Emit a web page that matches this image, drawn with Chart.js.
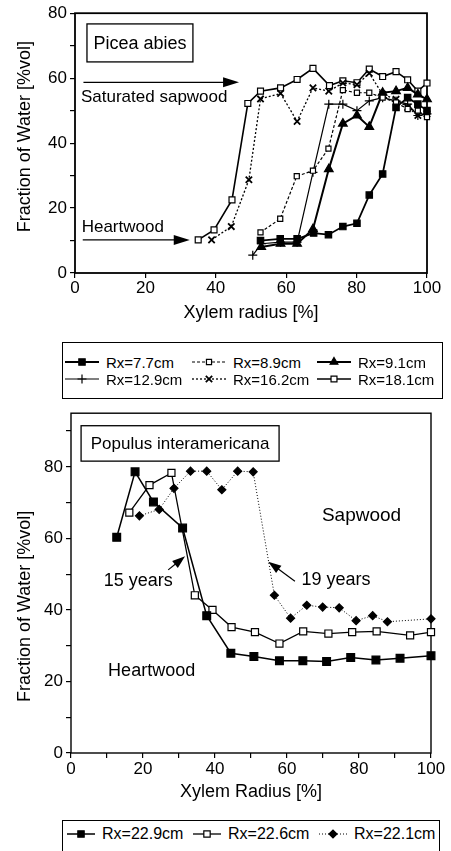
<!DOCTYPE html>
<html>
<head>
<meta charset="utf-8">
<script src="https://cdn.jsdelivr.net/npm/chart.js@4/dist/chart.umd.min.js"></script>
<style>
    body { margin: 0; background: #fff; width: 451px; height: 851px; position: relative; overflow: hidden; font-family: "Liberation Sans", Arial, sans-serif; }
    canvas.chart { position: absolute; left: 0; }
    .legend { position: absolute; border: 1px solid #000; box-sizing: border-box; background: #fff; }
    .item { position: absolute; height: 18px; display: flex; align-items: center; white-space: nowrap; color: #000; }
    .item canvas { display: block; }
</style>
</head>
<body>
<canvas id="picea" class="chart" style="top:0;width:451px;height:330px" width="451" height="330"></canvas>
<canvas id="populus" class="chart" style="top:400px;width:451px;height:415px" width="451" height="415"></canvas>
<div id="piceaLegend" class="legend" style="left:62px;top:342px;width:381px;height:57px"></div>
<div id="populusLegend" class="legend" style="left:62px;top:820px;width:378px;height:40px"></div>

<script>
// Picea abies: xylem radius [%] and fraction of water [%vol] per tree
const x77 = [52.7, 58.3, 63.1, 67.8, 72.0, 76.1, 80.1, 83.6, 87.4, 91.2, 94.5, 97.4, 100];
const y77 = [10.0, 10.5, 10.5, 12.3, 11.8, 14.3, 15.3, 24.0, 30.5, 51.0, 54.0, 52.0, 50.0];
const x89 = [52.7, 58.3, 63.0, 67.6, 72.0, 76.1, 80.1, 83.6, 87.4, 91.2, 94.5, 97.4, 100];
const y89 = [12.5, 16.7, 29.8, 31.5, 38.3, 56.3, 55.5, 55.5, 54.0, 52.5, 50.5, 50.0, 48.0];
const x91 = [52.9, 58.4, 63.1, 67.6, 72.1, 76.1, 80.1, 83.6, 87.4, 91.2, 94.5, 97.4, 100];
const y91 = [8.0, 9.0, 9.0, 13.5, 32.0, 46.0, 48.5, 45.0, 55.5, 56.0, 57.0, 55.0, 53.5];
const x129 = [50.5, 53.0, 58.4, 63.1, 67.6, 72.1, 76.1, 80.1, 83.6, 87.4, 91.2, 94.5, 97.4, 100];
const y129 = [5.5, 9.0, 9.5, 9.5, 31.0, 52.0, 52.0, 50.0, 53.0, 54.0, 53.0, 52.0, 48.5, 49.0];
const x162 = [38.8, 44.4, 49.4, 52.7, 58.4, 63.1, 67.6, 72.1, 76.1, 80.1, 83.6, 87.4, 91.2, 94.5, 97.4, 100];
const y162 = [10.2, 14.3, 28.7, 53.6, 55.3, 46.7, 57.0, 56.0, 58.5, 58.0, 61.5, 55.0, 53.5, 51.0, 48.5, 49.0];
const x181 = [35.0, 39.5, 44.6, 49.1, 52.7, 58.4, 63.1, 67.6, 72.3, 76.1, 80.1, 83.6, 87.4, 91.2, 94.5, 97.4, 100];
const y181 = [10.2, 13.3, 22.5, 52.2, 56.0, 57.0, 59.6, 63.0, 57.7, 59.2, 58.6, 62.8, 60.5, 62.0, 59.5, 56.0, 58.5];

// Populus interamericana
const x229 = [12.7, 17.8, 22.9, 31.0, 37.7, 44.4, 50.8, 57.9, 64.4, 71.0, 77.7, 84.7, 91.4, 100];
const y229 = [60.3, 78.6, 70.2, 62.9, 38.4, 27.9, 27.0, 25.8, 25.8, 25.6, 26.7, 26.0, 26.5, 27.2];
const x226 = [16.2, 21.8, 27.9, 34.4, 39.3, 44.6, 51.1, 57.9, 64.5, 71.5, 78.1, 84.9, 94.2, 100];
const y226 = [67.2, 74.9, 78.3, 44.1, 40.0, 35.2, 33.8, 30.6, 34.0, 33.4, 33.8, 34.0, 32.9, 33.8];
const x221 = [19.0, 24.5, 28.6, 33.2, 37.7, 41.9, 46.3, 50.6, 56.5, 61.0, 65.5, 69.9, 74.5, 79.2, 83.8, 87.9, 100];
const y221 = [66.3, 68.1, 74.0, 78.8, 78.8, 73.6, 78.8, 78.6, 44.1, 37.7, 41.3, 40.8, 40.6, 37.0, 38.4, 36.7, 37.5];

const FONT = '"Liberation Sans", Arial, sans-serif';
Chart.defaults.font.family = FONT;
Chart.defaults.color = '#000';

function pts(xs, ys) {
    return xs.map((x, i) => ({ x: x, y: ys[i] }));
}

function series(label, xs, ys, style) {
    return Object.assign({
        label: label,
        data: pts(xs, ys),
        showLine: true,
        borderColor: '#000',
        backgroundColor: '#000',
        pointBorderColor: '#000',
        pointBorderWidth: 1.2,
        borderWidth: 1.5,
        tension: 0,
        clip: false
    }, style);
}

// frame, labels, arrows and rotated y title
const notesPlugin = {
    id: 'notes',
    beforeDatasetsDraw(chart, args, opts) {
        const ctx = chart.ctx;
        const a = chart.chartArea;
        const sx = chart.scales.x, sy = chart.scales.y;
        ctx.save();
        ctx.strokeStyle = '#000';
        ctx.fillStyle = '#000';
        ctx.lineWidth = opts.frameWidth;
        ctx.strokeRect(a.left, a.top, a.right - a.left, a.bottom - a.top);

        const b = opts.box;
        const bx1 = sx.getPixelForValue(b.x1), bx2 = sx.getPixelForValue(b.x2);
        const by1 = sy.getPixelForValue(b.y1), by2 = sy.getPixelForValue(b.y2);
        ctx.lineWidth = 1.3;
        ctx.strokeRect(bx1, by1, bx2 - bx1, by2 - by1);
        ctx.font = b.size + 'px ' + FONT;
        ctx.textAlign = 'center';
        ctx.textBaseline = 'middle';
        ctx.fillText(b.text, (bx1 + bx2) / 2, (by1 + by2) / 2 + 1);

        opts.texts.forEach(t => {
            ctx.font = t.size + 'px ' + FONT;
            ctx.textAlign = t.align;
            ctx.fillText(t.text, sx.getPixelForValue(t.x), sy.getPixelForValue(t.y));
        });

        opts.arrows.forEach(r => {
            const x1 = sx.getPixelForValue(r.x1), y1 = sy.getPixelForValue(r.y1);
            const x2 = sx.getPixelForValue(r.x2), y2 = sy.getPixelForValue(r.y2);
            const ang = Math.atan2(y2 - y1, x2 - x1);
            ctx.lineWidth = 1.2;
            ctx.beginPath();
            ctx.moveTo(x1, y1);
            ctx.lineTo(x2 - Math.cos(ang) * r.head * 0.8, y2 - Math.sin(ang) * r.head * 0.8);
            ctx.stroke();
            ctx.beginPath();
            ctx.moveTo(x2, y2);
            ctx.lineTo(x2 - Math.cos(ang) * r.head - Math.sin(ang) * r.half, y2 - Math.sin(ang) * r.head + Math.cos(ang) * r.half);
            ctx.lineTo(x2 - Math.cos(ang) * r.head + Math.sin(ang) * r.half, y2 - Math.sin(ang) * r.head - Math.cos(ang) * r.half);
            ctx.closePath();
            ctx.fill();
        });
        ctx.restore();
    },
    afterDraw(chart, args, opts) {
        const ctx = chart.ctx;
        ctx.save();
        ctx.translate(opts.yTitleX, chart.scales.y.getPixelForValue(opts.yTitleAt));
        ctx.rotate(-Math.PI / 2);
        ctx.font = '18px ' + FONT;
        ctx.textAlign = 'center';
        ctx.textBaseline = 'middle';
        ctx.fillStyle = '#000';
        ctx.fillText(opts.yTitle, 0, 0);
        ctx.restore();
    }
};

function axes(cfg) {
    const gridOpts = { display: true, drawOnChartArea: false, drawTicks: true, tickLength: 5, color: '#000', lineWidth: 1.2 };
    return {
        x: {
            type: 'linear', min: 0, max: 100,
            border: { display: false },
            grid: gridOpts,
            ticks: {
                stepSize: cfg.xStep, padding: cfg.xPad, maxRotation: 0,
                font: { size: 17 },
                callback: v => (v % 20 === 0 ? v : '')
            },
            title: { display: true, text: cfg.xTitle, font: { size: 18 }, padding: { top: 0, bottom: cfg.xTitlePad } },
            afterFit: s => { s.height = cfg.xHeight; }
        },
        y: {
            type: 'linear', min: 0, max: cfg.yMax,
            border: { display: false },
            grid: gridOpts,
            ticks: {
                stepSize: 10, padding: 3, includeBounds: false,
                font: { size: 17 },
                callback: v => (v % 20 === 0 ? v : '')
            },
            afterFit: s => { s.width = cfg.yWidth; }
        }
    };
}

const piceaChart = new Chart(document.getElementById('picea').getContext('2d'), {
    type: 'scatter',
    data: {
        datasets: [
            series('Rx=7.7cm', x77, y77, { pointStyle: 'rect', pointRadius: 4.5, borderWidth: 1.8 }),
            series('Rx=8.9cm', x89, y89, { pointStyle: 'rect', pointRadius: 3.6, pointBackgroundColor: '#fff', borderDash: [3, 2], borderWidth: 1.2 }),
            series('Rx=9.1cm', x91, y91, { pointStyle: 'triangle', pointRadius: 5, borderWidth: 2 }),
            series('Rx=12.9cm', x129, y129, { pointStyle: 'cross', pointRadius: 4.5, borderWidth: 1.2 }),
            series('Rx=16.2cm', x162, y162, { pointStyle: 'crossRot', pointRadius: 4.5, pointBorderWidth: 1.8, borderDash: [2, 2], borderWidth: 1.3 }),
            series('Rx=18.1cm', x181, y181, { pointStyle: 'rect', pointRadius: 4.2, pointBackgroundColor: '#fff', borderWidth: 1.6 })
        ]
    },
    options: {
        responsive: false,
        animation: false,
        layout: { padding: { left: 0, top: 12, right: 24, bottom: 0 } },
        scales: axes({ xStep: 20, xPad: 0, xTitle: 'Xylem radius [%]', xTitlePad: 6, xHeight: 57, yMax: 80, yWidth: 75 }),
        plugins: {
            legend: { display: false },
            tooltip: { enabled: false },
            notes: {
                frameWidth: 1.8,
                yTitle: 'Fraction of Water [%vol]', yTitleX: 25, yTitleAt: 42,
                box: { x1: 3.4, x2: 33.5, y1: 76.7, y2: 65, text: 'Picea abies', size: 18 },
                texts: [
                    { text: 'Saturated sapwood', x: 1.7, y: 54.1, size: 17, align: 'left' },
                    { text: 'Heartwood', x: 1.9, y: 14.1, size: 17, align: 'left' }
                ],
                arrows: [
                    { x1: 2.4, y1: 58.7, x2: 46.6, y2: 58.7, head: 16, half: 5 },
                    { x1: 2.2, y1: 10.2, x2: 32.6, y2: 10.2, head: 16, half: 5 }
                ]
            }
        }
    },
    plugins: [notesPlugin]
});

const populusChart = new Chart(document.getElementById('populus').getContext('2d'), {
    type: 'scatter',
    data: {
        datasets: [
            series('Rx=22.9cm', x229, y229, { pointStyle: 'rect', pointRadius: 5.5, borderWidth: 1.5 }),
            series('Rx=22.6cm', x226, y226, { pointStyle: 'rect', pointRadius: 5, pointBackgroundColor: '#fff', borderWidth: 1.3 }),
            series('Rx=22.1cm', x221, y221, { pointStyle: 'rectRot', pointRadius: 4, borderDash: [1, 2], borderWidth: 1 })
        ]
    },
    options: {
        responsive: false,
        animation: false,
        layout: { padding: { left: 0, top: 7, right: 20, bottom: 0 } },
        scales: axes({ xStep: 10, xPad: 1, xTitle: 'Xylem Radius [%]', xTitlePad: 12, xHeight: 62, yMax: 95, yWidth: 71 }),
        plugins: {
            legend: { display: false },
            tooltip: { enabled: false },
            notes: {
                frameWidth: 1.4,
                yTitle: 'Fraction of Water [%vol]', yTitleX: 25, yTitleAt: 41,
                box: { x1: 2.8, x2: 57.8, y1: 91.5, y2: 81.6, text: 'Populus interamericana', size: 17 },
                texts: [
                    { text: 'Sapwood', x: 80.7, y: 66.3, size: 19, align: 'center' },
                    { text: '15 years', x: 18.7, y: 48.0, size: 18, align: 'center' },
                    { text: '19 years', x: 73.6, y: 48.3, size: 18, align: 'center' },
                    { text: 'Heartwood', x: 22.4, y: 22.9, size: 18, align: 'center' }
                ],
                arrows: [
                    { x1: 27.0, y1: 51.2, x2: 31.7, y2: 55.0, head: 13, half: 4.5 },
                    { x1: 62.2, y1: 48.0, x2: 54.8, y2: 53.5, head: 13, half: 4.5 }
                ]
            }
        }
    },
    plugins: [notesPlugin]
});

// legend boxes below each chart, built from the chart's datasets
function buildLegend(el, chart, cols, rows, sampleW, fontSize) {
    chart.data.datasets.forEach((ds, i) => {
        const item = document.createElement('div');
        item.className = 'item';
        item.style.left = cols[i % cols.length] + 'px';
        item.style.top = (rows[Math.floor(i / cols.length)] - 9) + 'px';
        item.style.fontSize = fontSize + 'px';

        const c = document.createElement('canvas');
        c.width = sampleW; c.height = 14;
        c.style.marginRight = '6px';
        const ctx = c.getContext('2d');
        ctx.strokeStyle = '#000';
        ctx.fillStyle = '#000';
        ctx.lineWidth = ds.borderWidth;
        ctx.setLineDash(ds.borderDash || []);
        ctx.beginPath();
        ctx.moveTo(1, 7);
        ctx.lineTo(sampleW - 1, 7);
        ctx.stroke();
        ctx.setLineDash([]);
        ctx.fillStyle = ds.pointBackgroundColor || '#000';
        ctx.lineWidth = ds.pointBorderWidth;
        const r = Math.min(ds.pointRadius, 4.5);
        if (Chart.helpers && Chart.helpers.drawPoint) {
            Chart.helpers.drawPoint(ctx, { pointStyle: ds.pointStyle, radius: r, rotation: 0, borderWidth: ds.pointBorderWidth }, sampleW / 2, 7);
        } else {
            ctx.fillRect(sampleW / 2 - r * 0.7, 7 - r * 0.7, r * 1.4, r * 1.4);
        }
        item.appendChild(c);

        const span = document.createElement('span');
        span.textContent = ds.label;
        item.appendChild(span);
        el.appendChild(item);
    });
}

buildLegend(document.getElementById('piceaLegend'), piceaChart, [1, 128, 253], [19, 36], 36, 15);
buildLegend(document.getElementById('populusLegend'), populusChart, [3, 129, 255], [13], 30, 16);
</script>
</body>
</html>
